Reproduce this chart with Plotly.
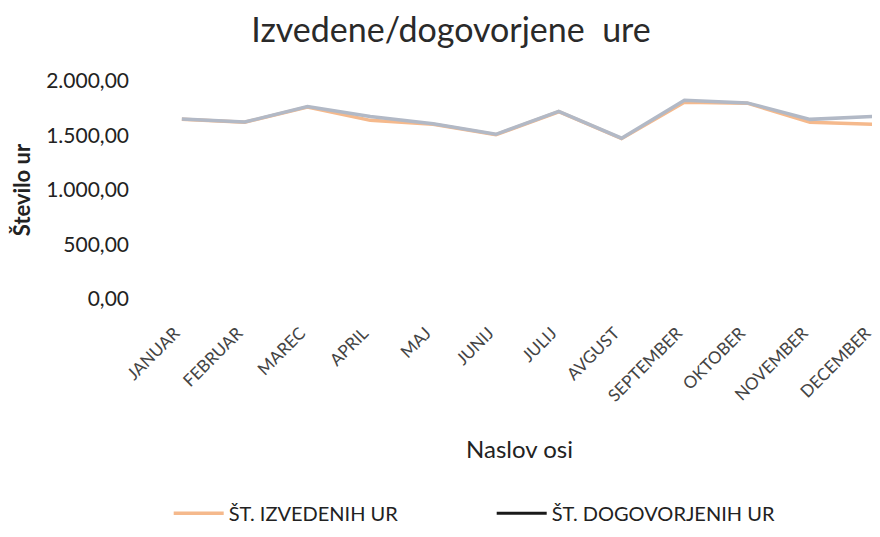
import plotly.graph_objects as go

months = ["JANUAR", "FEBRUAR", "MAREC", "APRIL", "MAJ", "JUNIJ", "JULIJ",
          "AVGUST", "SEPTEMBER", "OKTOBER", "NOVEMBER", "DECEMBER"]
izvedene = [1648, 1621, 1762, 1639, 1604, 1507, 1718, 1471, 1806, 1797, 1621, 1604]
dogovorjene = [1652, 1624, 1766, 1674, 1608, 1511, 1722, 1475, 1824, 1799, 1648, 1674]
y_ticks = [0, 500, 1000, 1500, 2000]
y_tick_labels = ["0,00", "500,00", "1.000,00", "1.500,00", "2.000,00"]

FONT = "Lato, 'Open Sans', sans-serif"

fig = go.Figure()
fig.add_trace(go.Scatter(x=months, y=izvedene, mode="lines", name="ŠT. IZVEDENIH UR",
                         line=dict(color="#F5B98C", width=3.5)))
fig.add_trace(go.Scatter(x=months, y=dogovorjene, mode="lines", name="ŠT. DOGOVORJENIH UR",
                         line=dict(color="#B2B9C6", width=3.5), showlegend=False))
fig.add_trace(go.Scatter(x=months, y=[None] * len(months), mode="lines",
                         name="ŠT. DOGOVORJENIH UR", line=dict(color="#1a1a1a", width=3)))

fig.update_layout(
    width=872, height=529,
    margin=dict(l=155, r=4, t=73, b=229),
    paper_bgcolor="white", plot_bgcolor="white",
    font=dict(family=FONT, color="#222"),
    title=dict(text="Izvedene/dogovorjene&nbsp;&nbsp;ure", x=443 / 872, xanchor="center",
               y=1 - 22 / 529, yanchor="middle", font=dict(size=34, color="#2a2a2a")),
    xaxis=dict(type="category", range=[-0.3, 11.05], showgrid=False, showline=False,
               zeroline=False, ticks="", tickangle=-45, ticklabelstandoff=20,
               ticklabelshift=-7,
               tickfont=dict(size=17, color="#444"),
               title=dict(text="Naslov osi", font=dict(size=24, color="#222"), standoff=36),
               automargin=False),
    yaxis=dict(range=[0, 2000], tickvals=y_ticks, ticktext=y_tick_labels,
               showgrid=False, showline=False, zeroline=False, ticks="",
               tickfont=dict(size=21, color="#222"), ticklabelstandoff=33,
               title=dict(text="<b>Število ur</b>", font=dict(size=22, color="#222"), standoff=18),
               automargin=False),
    legend=dict(orientation="h", x=0.008, xanchor="left", y=-(523 - 300) / 227, yanchor="middle",
                font=dict(size=20, color="#222"), itemwidth=50, traceorder="normal",
                entrywidth=258),
)

fig.write_html("out.html")
